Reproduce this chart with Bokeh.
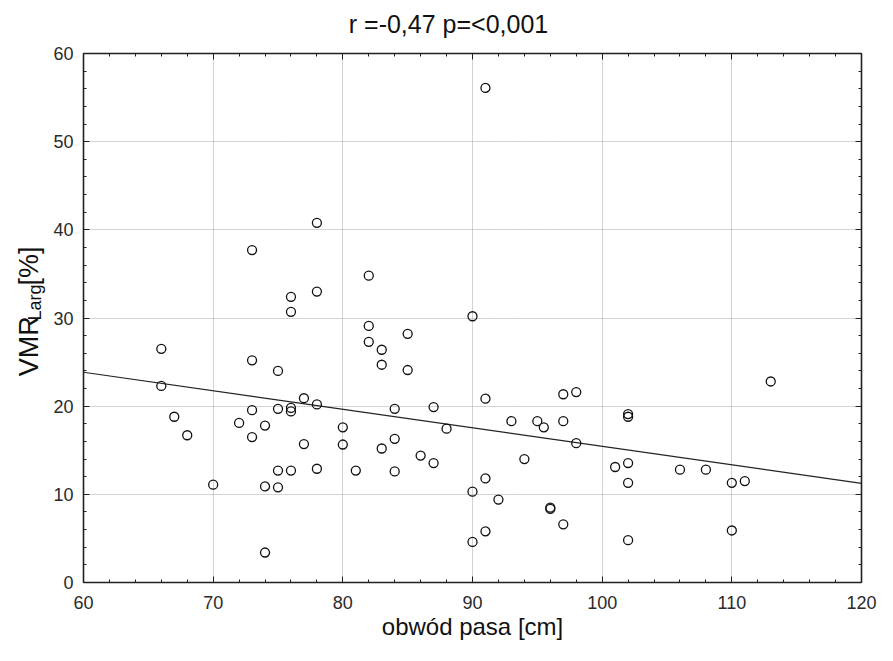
import math
from bokeh.plotting import figure
from bokeh.layouts import row, column
from bokeh.models import Range1d, LinearAxis, SingleIntervalTicker, CustomJSTickFormatter
from bokeh.core.properties import value
from bokeh.embed import file_html
from bokeh.resources import INLINE

# ---- data ----
obwod = [66, 66, 67, 68, 70, 72, 73, 73, 73, 73, 74, 74, 74, 75, 75, 75, 75,
         76, 76, 76, 76, 76, 77, 77, 78, 78, 78, 78, 80, 80, 81, 82, 82, 82,
         83, 83, 83, 84, 84, 84, 85, 85, 86, 87, 87, 88, 90, 90, 90, 91, 91,
         91, 91, 92, 93, 94, 95, 95.5, 96, 96, 97, 97, 97, 98, 98, 101, 102,
         102, 102, 102, 102, 106, 108, 110, 110, 111, 113]
vmr = [26.5, 22.3, 18.8, 16.7, 11.1, 18.1, 37.7, 25.2, 19.55, 16.5, 17.8, 10.9, 3.4,
       24.0, 19.7, 12.7, 10.8, 32.4, 30.7, 19.8, 19.4, 12.7, 20.9, 15.7, 40.8, 33.0,
       20.2, 12.9, 17.6, 15.65, 12.7, 34.8, 29.1, 27.3, 26.4, 24.7, 15.2, 19.7, 16.3,
       12.6, 28.2, 24.1, 14.4, 19.9, 13.55, 17.45, 30.2, 10.3, 4.6, 56.1, 20.85, 11.8,
       5.8, 9.4, 18.3, 14.0, 18.3, 17.6, 8.5, 8.35, 21.35, 18.3, 6.6, 21.6, 15.8, 13.1,
       19.1, 18.8, 13.55, 11.3, 4.8, 12.8, 12.8, 11.3, 5.9, 11.5, 22.8]
fit_x = [60, 120]
fit_y = [23.85, 11.24]

title_text = "r =-0,47 p=<0,001"
x_label = "obwód pasa [cm]"
y_label_main = "VMR"
y_label_sub = "Larg"
y_label_tail = " [%]"
x_min, x_max, x_step = 60, 120, 10
y_min, y_max, y_step = 0, 60, 10

FONT = "Liberation Sans"
AX = "#202020"
TXT = "#111111"

W, H = 877, 645
TOP_H = 40
SIDE_W = 48
MAIN_H = H - TOP_H


def strip(width, height):
    f = figure(width=width, height=height, output_backend="svg", toolbar_location=None,
               title=None, x_range=Range1d(0, width), y_range=Range1d(0, height),
               x_axis_type=None, y_axis_type=None, min_border=0,
               outline_line_color=None, background_fill_color="white",
               border_fill_color="white")
    return f


# ---------------- title strip (text anchored at its vertical middle) ----------------
top = strip(W, TOP_H)
top.text(x=[448], y=[TOP_H - 23], text=[title_text], text_align="center",
         text_baseline="middle", text_font=value(FONT), text_font_size="25px",
         text_color=TXT)

# ---------------- main scatter figure ----------------
p = figure(width=W - SIDE_W, height=MAIN_H, output_backend="svg", toolbar_location=None,
           title=None, x_range=Range1d(x_min, x_max), y_range=Range1d(y_min, y_max),
           min_border_left=83 - SIDE_W, min_border_right=16, min_border_top=53 - TOP_H,
           min_border_bottom=63, outline_line_color=None,
           background_fill_color="white", border_fill_color="white")


def style_axis(ax, ticker, show_labels):
    ax.ticker = ticker
    ax.axis_line_color = AX
    ax.axis_line_width = 1.6
    ax.major_tick_in = 6
    ax.major_tick_out = 0
    ax.minor_tick_in = 3
    ax.minor_tick_out = 0
    ax.major_tick_line_color = AX
    ax.minor_tick_line_color = AX
    ax.major_label_text_font = FONT
    ax.major_label_text_color = "#2a2a2a"
    if show_labels:
        ax.major_label_text_font_size = "18px"
    else:
        ax.formatter = CustomJSTickFormatter(code="return ''")
        ax.major_label_text_font_size = "0px"
        ax.major_label_standoff = 0


style_axis(p.xaxis[0], SingleIntervalTicker(interval=x_step, num_minor_ticks=5), True)
p.xaxis[0].major_label_standoff = 13
p.xaxis[0].axis_label = x_label
p.xaxis[0].axis_label_standoff = 1
p.xaxis[0].axis_label_text_font = FONT
p.xaxis[0].axis_label_text_font_size = "24px"
p.xaxis[0].axis_label_text_font_style = "normal"
p.xaxis[0].axis_label_text_color = TXT

style_axis(p.yaxis[0], SingleIntervalTicker(interval=y_step, num_minor_ticks=5), True)
p.yaxis[0].major_label_standoff = 10

top_ax = LinearAxis()
style_axis(top_ax, SingleIntervalTicker(interval=x_step, num_minor_ticks=5), False)
p.add_layout(top_ax, "above")
right_ax = LinearAxis()
style_axis(right_ax, SingleIntervalTicker(interval=y_step, num_minor_ticks=5), False)
p.add_layout(right_ax, "right")

p.xgrid.grid_line_color = "#d2d2d2"
p.xgrid.grid_line_width = 1
p.ygrid.grid_line_color = "#a8a8a8"
p.ygrid.grid_line_dash = "1 1"
p.ygrid.grid_line_width = 1

p.line(fit_x, fit_y, line_color="#222222", line_width=1.2)
p.scatter(obwod, vmr, marker="circle", size=9, fill_color=None,
          line_color="#111111", line_width=1.3)

# ---------------- strip holding the rotated y-axis title ----------------
side = strip(SIDE_W, MAIN_H)
big, small = 27, 18
w_main = 2.222 * big
w_sub = 2.0 * small
w_tail = 1.723 * big
gap = 4
total = w_main + w_sub + w_tail + 2 * gap
center_from_top = 334 - TOP_H
start = MAIN_H - center_from_top - total / 2
mid_x = 28

side.text(x=[mid_x], y=[start], text=[y_label_main], angle=math.pi / 2,
          text_align="left", text_baseline="middle", text_font=value(FONT),
          text_font_size=f"{big}px", text_color=TXT)
side.text(x=[mid_x + 6], y=[start + w_main + gap], text=[y_label_sub],
          angle=math.pi / 2, text_align="left", text_baseline="middle",
          text_font=value(FONT), text_font_size=f"{small}px", text_color=TXT)
side.text(x=[mid_x], y=[start + w_main + w_sub + 2 * gap], text=[y_label_tail],
          angle=math.pi / 2, text_align="left", text_baseline="middle",
          text_font=value(FONT), text_font_size=f"{big}px", text_color=TXT)

layout = column(top, row(side, p))
open("out.html", "w").write(file_html(layout, INLINE))
